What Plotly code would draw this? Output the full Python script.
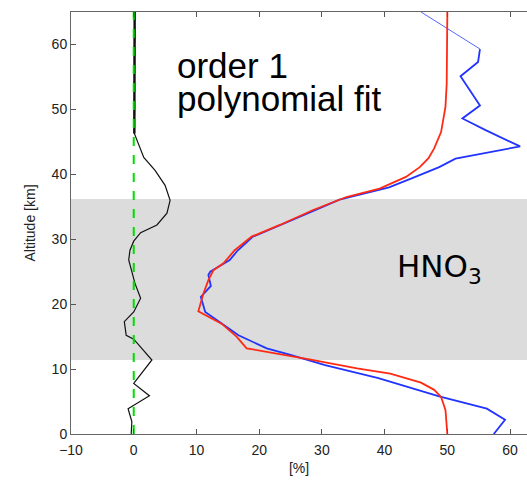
import plotly.graph_objects as go

# Altitude grid (km) and profiles (%)
diff_alt = [0, 1.9, 3.9, 5.9, 7.8, 11.4, 14.6, 15.2, 17.3, 18.8, 20.9, 23.2, 25.0,
            26.8, 28.3, 29.7, 31.0, 32.2, 34.0, 36.0, 38.3, 40.6, 42.6, 45.2, 46.3,
            53.0, 65.0]
diff_val = [-0.4, -0.3, -0.9, 2.5, 0.0, 2.9, 0.0, -1.2, -1.5, 0.0, 1.1, 0.2, -0.3,
            -0.8, -0.6, 0.0, 1.1, 3.7, 5.3, 5.8, 5.0, 3.4, 1.6, 0.5, 0.1,
            0.1, 0.15]

fit_alt = [0, 3.7, 5.7, 6.8, 7.9, 8.8, 9.3, 10.1, 11.1, 11.5, 13.2, 15.0, 17.0, 18.9,
           21.6, 23.7, 25.2, 26.3, 28.3, 30.4, 32.2, 34.5, 36.5, 37.8, 39.6, 41.1,
           42.5, 44.0, 46.5, 50.4, 54.0, 65.0]
fit_val = [50.0, 49.7, 49.0, 47.9, 45.8, 42.5, 40.9, 35.6, 30.2, 28.0, 18.0, 16.4,
           14.0, 10.3, 11.1, 11.9, 12.7, 14.3, 16.1, 18.8, 23.3, 28.6, 33.9, 39.2,
           43.4, 45.6, 47.0, 47.9, 49.0, 49.7, 49.9, 50.0]

meas_alt = [0, 2.2, 3.9, 5.8, 8.6, 10.6, 12.2, 13.2, 15.2, 17.0, 18.8, 21.1, 22.8,
            24.5, 25.0, 26.8, 28.3, 30.4, 32.2, 34.0, 36.1, 37.0, 38.0, 39.4, 41.1,
            42.4, 44.3, 46.8, 48.6, 50.6, 55.1, 57.3, 59.3]
meas_val = [57.4, 59.2, 56.3, 48.7, 39.0, 30.5, 25.0, 21.2, 16.7, 14.0, 11.4, 10.7,
            12.3, 11.9, 12.2, 15.3, 16.6, 19.0, 23.5, 27.8, 32.8, 36.5, 40.7, 44.4,
            48.7, 51.3, 61.6, 56.1, 52.4, 55.2, 52.1, 54.9, 55.2]
meas_top_alt = [59.3, 65.0]
meas_top_val = [55.2, 45.8]

zero_alt = [0, 65]
zero_val = [0, 0]

band = [11.4, 36.2]          # shaded altitude range (km)
x_ticks = [-10, 0, 10, 20, 30, 40, 50, 60]
y_ticks = [0, 10, 20, 30, 40, 50, 60]

fig = go.Figure()

fig.add_shape(type="rect", xref="paper", yref="y", x0=0, x1=1,
              y0=band[0], y1=band[1], fillcolor="#dcdcdc", line_width=0,
              layer="below")

fig.add_trace(go.Scatter(x=diff_val, y=diff_alt, mode="lines",
                         line=dict(color="#111111", width=1.2)))
fig.add_trace(go.Scatter(x=diff_val[-3:], y=diff_alt[-3:], mode="lines",
                         line=dict(color="#111111", width=2.4)))
fig.add_trace(go.Scatter(x=zero_val, y=zero_alt, mode="lines",
                         line=dict(color="#00dd00", width=2, dash="dash")))
fig.add_trace(go.Scatter(x=meas_val, y=meas_alt, mode="lines",
                         line=dict(color="#2233ff", width=1.8)))
fig.add_trace(go.Scatter(x=meas_top_val, y=meas_top_alt, mode="lines",
                         line=dict(color="#5566ff", width=1)))
fig.add_trace(go.Scatter(x=fit_val, y=fit_alt, mode="lines",
                         line=dict(color="#ff2a14", width=1.8)))

W, H = 527, 482
L, R, T, B = 71, 0, 12, 48


def px(x):
    return (x - L) / (W - L - R)


def py(y):
    return (H - B - y) / (H - T - B)


fig.add_annotation(x=px(175), y=py(65), xref="paper", yref="paper",
                   text="order 1", showarrow=False, xanchor="left",
                   yanchor="middle",
                   font=dict(family="Liberation Sans", size=35, color="black"))
fig.add_annotation(x=px(175), y=py(99), xref="paper", yref="paper",
                   text="polynomial fit", showarrow=False, xanchor="left",
                   yanchor="middle",
                   font=dict(family="Liberation Sans", size=35, color="black"))
fig.add_annotation(x=px(395), y=py(268), xref="paper", yref="paper",
                   text="HNO<sub>3</sub>", showarrow=False, xanchor="left",
                   yanchor="middle",
                   font=dict(family="DejaVu Sans", size=31, color="black"))

axis_font = dict(family="Liberation Sans", size=14, color="#222222")

fig.update_layout(
    width=W, height=H,
    margin=dict(l=L, r=R, t=T, b=B),
    paper_bgcolor="white", plot_bgcolor="white",
    showlegend=False,
    xaxis=dict(range=[-10, 62.7], tickvals=x_ticks, ticks="inside", ticklen=5,
               tickcolor="#555555", showline=True, linecolor="#666666",
               linewidth=1, mirror="ticks", showgrid=False, zeroline=False,
               tickfont=axis_font, ticklabelstandoff=3,
               title=dict(text="[%]", font=axis_font, standoff=6)),
    yaxis=dict(range=[0, 65], tickvals=y_ticks, ticks="inside", ticklen=5,
               tickcolor="#555555", showline=True, linecolor="#666666",
               linewidth=1, showgrid=False, zeroline=False,
               tickfont=axis_font,
               title=dict(text="Altitude [km]", font=axis_font, standoff=12)),
)

fig.write_html("out.html")
